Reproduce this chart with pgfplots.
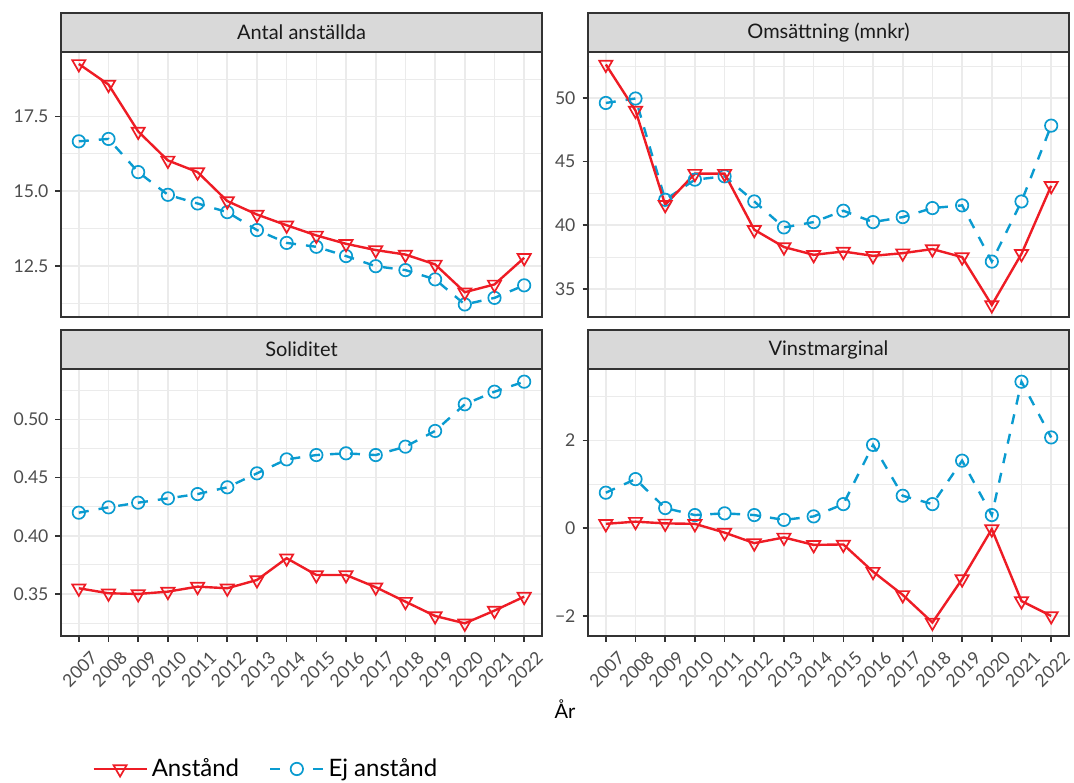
\documentclass[border=0pt]{standalone}
\usepackage{pgfplots}
\pgfplotsset{compat=1.18}
\usepackage{pgfplotstable}
\usepackage{fontspec}
\setmainfont{Lato}

\definecolor{ansred}{HTML}{EE1C25}
\definecolor{ejblue}{HTML}{0A9BD0}
\definecolor{gridgray}{HTML}{EBEBEB}
\definecolor{framegray}{HTML}{333333}
\definecolor{ticktext}{HTML}{4D4D4D}
\definecolor{stripbg}{HTML}{D9D9D9}
\definecolor{striptext}{HTML}{1A1A1A}

% i = year index (0 = 2007 ... 15 = 2022); ans = Anstånd, ej = Ej anstånd
\pgfplotstableread{
i ans ej
0 19.26 16.67
1 18.57 16.75
2 17.00 15.64
3 16.03 14.88
4 15.64 14.59
5 14.67 14.30
6 14.22 13.70
7 13.86 13.27
8 13.52 13.14
9 13.24 12.83
10 13.03 12.49
11 12.88 12.36
12 12.55 12.05
13 11.62 11.21
14 11.88 11.43
15 12.77 11.85
}\anstallda

\pgfplotstableread{
i ans ej
0 52.62 49.60
1 49.00 49.95
2 41.61 42.00
3 44.05 43.58
4 44.05 43.84
5 39.65 41.87
6 38.29 39.83
7 37.68 40.25
8 37.94 41.14
9 37.60 40.25
10 37.81 40.64
11 38.13 41.35
12 37.50 41.56
13 33.74 37.15
14 37.76 41.87
15 43.10 47.82
}\omsattning

\pgfplotstableread{
i ans ej
0 0.3549 0.4198
1 0.3506 0.4244
2 0.3500 0.4284
3 0.3520 0.4321
4 0.3563 0.4358
5 0.3549 0.4416
6 0.3620 0.4536
7 0.3807 0.4656
8 0.3663 0.4693
9 0.3663 0.4708
10 0.3558 0.4693
11 0.3434 0.4765
12 0.3311 0.4900
13 0.3248 0.5129
14 0.3357 0.5237
15 0.3477 0.5323
}\soliditet

\pgfplotstableread{
i ans ej
0 0.10 0.81
1 0.15 1.12
2 0.11 0.46
3 0.10 0.30
4 -0.10 0.34
5 -0.34 0.30
6 -0.21 0.19
7 -0.38 0.27
8 -0.37 0.55
9 -0.99 1.90
10 -1.52 0.74
11 -2.15 0.55
12 -1.16 1.54
13 -0.02 0.30
14 -1.66 3.34
15 -2.00 2.07
}\vinst

\pgfplotsset{
  facet/.style={
    scale only axis, width=240.5pt,
    anchor=south west,
    xmin=-0.6, xmax=15.6,
    xtick={0,...,15},
    grid=both,
    major grid style={gridgray, line width=0.8pt},
    minor grid style={gridgray, line width=0.45pt},
    axis line style={framegray, line width=0.9pt},
    tick align=outside, tick pos=left,
    major tick length=2.75pt, minor tick length=0pt,
    tick style={framegray, line width=0.8pt},
    ticklabel style={font=\fontsize{8.8}{10}\selectfont, text=ticktext},
    clip=false,
  },
  toprow/.style={facet, height=132.5pt, xticklabels={}, xtick style={draw=none}},
  bottomrow/.style={facet, height=133.5pt,
    xticklabels={2007,2008,2009,2010,2011,2012,2013,2014,2015,2016,2017,2018,2019,2020,2021,2022},
    xticklabel style={yshift=-13.8pt, xshift=0.5pt, rotate=45, anchor=center}},
  ansplot/.style={ansred, line width=1.2pt, mark=triangle, mark size=3.8pt,
    mark options={rotate=180, solid, line width=0.85pt}},
  ejplot/.style={ejblue, line width=1.2pt, dash pattern=on 5pt off 5pt, mark=o, mark size=3.1pt,
    mark options={solid, line width=0.85pt}},
  ansleg/.style={legend image code/.code={\draw[mark repeat=2, mark phase=2, ##1]
      plot coordinates {(0pt,0pt) (13.25pt,0pt) (26.5pt,0pt)};}},
  ejleg/.style={legend image code/.code={\draw[mark repeat=2, mark phase=2, ##1,
      dash pattern=on 5pt off 16.5pt]
      plot coordinates {(0pt,0pt) (13.25pt,0pt) (26.5pt,0pt)};}},
}

% facet strip on top of the current axis
\newcommand{\strip}[1]{%
  \draw[fill=stripbg, draw=framegray, line width=0.9pt]
    (rel axis cs:0,1) rectangle ([yshift=19.5pt]rel axis cs:1,1);
  \node[font=\fontsize{10}{12}\selectfont, text=striptext]
    at ([yshift=9.75pt]rel axis cs:0.5,1) {#1};
}

\begin{document}
\begin{tikzpicture}
\path[use as bounding box] (0,0) rectangle (537pt,391pt);

\begin{axis}[toprow, at={(30.5pt,232.5pt)},
  ymin=10.79, ymax=19.66,
  ytick={12.5,15,17.5}, yticklabels={12.5,15.0,17.5},
  minor ytick={11.25,13.75,16.25,18.75}]
  \addplot[ejplot] table[x=i, y=ej] {\anstallda};
  \addplot[ansplot] table[x=i, y=ans] {\anstallda};
  \strip{Antal anställda}
\end{axis}

\begin{axis}[toprow, at={(294pt,232.5pt)},
  ymin=32.8, ymax=53.6,
  ytick={35,40,45,50}, yticklabels={35,40,45,50},
  minor ytick={37.5,42.5,47.5,52.5}]
  \addplot[ejplot] table[x=i, y=ej] {\omsattning};
  \addplot[ansplot] table[x=i, y=ans] {\omsattning};
  \strip{Omsättning (mnkr)}
\end{axis}

\begin{axis}[bottomrow, at={(30.5pt,73pt)},
  ymin=0.3139, ymax=0.5432,
  ytick={0.35,0.40,0.45,0.50}, yticklabels={0.35,0.40,0.45,0.50},
  minor ytick={0.325,0.375,0.425,0.475,0.525},
  legend style={at={(axis description cs:0.0644,-0.498)}, anchor=west,
    legend columns=2, draw=none, fill=none, inner sep=0pt,
    font=\fontsize{12}{14}\selectfont,
    /tikz/every even column/.append style={column sep=13pt}},
  legend cell align=left]
  \addplot[ansplot, ansleg] table[x=i, y=ans] {\soliditet};
  \addlegendentry{Anstånd}
  \addplot[ejplot, ejleg] table[x=i, y=ej] {\soliditet};
  \addlegendentry{Ej anstånd}
  \strip{Soliditet}
\end{axis}

\begin{axis}[bottomrow, at={(294pt,73pt)},
  ymin=-2.457, ymax=3.63,
  ytick={-2,0,2}, yticklabels={−2,0,2},
  minor ytick={-1,1,3}]
  \addplot[ejplot] table[x=i, y=ej] {\vinst};
  \addplot[ansplot] table[x=i, y=ans] {\vinst};
  \strip{Vinstmarginal}
\end{axis}

\node[font=\fontsize{10}{12}\selectfont] at (282.5pt,36.5pt) {År};
\end{tikzpicture}
\end{document}
